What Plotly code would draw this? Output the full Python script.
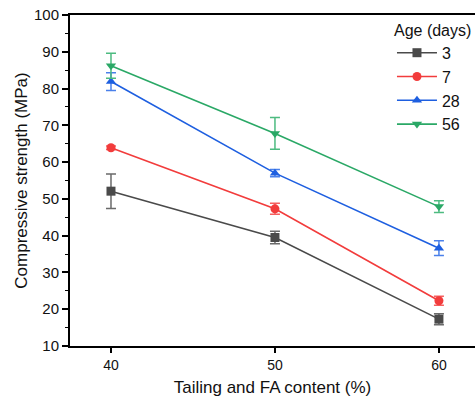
import plotly.graph_objects as go

content = [40, 50, 60]
ages = ["3", "7", "28", "56"]
strength = {
    "3": [52.1, 39.5, 17.3],
    "7": [63.9, 47.3, 22.3],
    "28": [81.9, 57.0, 36.6],
    "56": [86.2, 67.8, 47.9],
}
errors = {
    "3": [4.7, 1.7, 1.5],
    "7": [0.5, 1.5, 1.2],
    "28": [2.4, 1.0, 2.0],
    "56": [3.4, 4.3, 1.6],
}
colors = {"3": "#4a4a4a", "7": "#f23c3c", "28": "#1e5fe0", "56": "#2aa866"}
err_colors = {"3": "#6a6a6a", "7": "#f56060", "28": "#4a80ea", "56": "#4dbb80"}
symbols = {"3": "square", "7": "circle", "28": "triangle-up", "56": "triangle-down"}

fig = go.Figure()
for a in ages:
    fig.add_trace(go.Scatter(
        x=content, y=strength[a], name=a, mode="lines+markers",
        line=dict(color=colors[a], width=1.6),
        marker=dict(symbol=symbols[a], size=9, color=colors[a]),
        error_y=dict(type="data", array=errors[a], visible=True,
                     color=err_colors[a], thickness=1.5, width=5),
    ))

font = "Liberation Sans, Arial, sans-serif"
fig.update_layout(
    width=475, height=402,
    margin=dict(l=70, r=0, t=15, b=56),
    paper_bgcolor="white", plot_bgcolor="white",
    font=dict(family=font, color="#111", size=14),
    showlegend=True,
    legend=dict(
        title=dict(text="Age (days)", font=dict(size=16)),
        font=dict(size=16),
        x=0.795, y=1.0, xanchor="left", yanchor="top",
        bgcolor="rgba(0,0,0,0)", tracegroupgap=0,
        itemwidth=40,
    ),
    xaxis=dict(
        range=[37.5, 62.2], tickvals=[40, 50, 60],
        showline=True, linecolor="black", linewidth=2, mirror=True,
        ticks="outside", ticklen=5, tickwidth=1.5, tickcolor="black",
        showgrid=False, zeroline=False,
        title=dict(text="Tailing and FA content (%)", font=dict(size=17), standoff=9),
        tickfont=dict(size=14),
    ),
    yaxis=dict(
        range=[10, 100], tickvals=list(range(10, 101, 10)),
        showline=True, linecolor="black", linewidth=2, mirror=False,
        ticks="outside", ticklen=6, tickwidth=1.5, tickcolor="black",
        minor=dict(ticks="outside", ticklen=3, tickwidth=1.2, tickcolor="black", dtick=5),
        showgrid=False, zeroline=False,
        title=dict(text="Compressive strength (MPa)", font=dict(size=17), standoff=2),
        tickfont=dict(size=15),
    ),
)

fig.write_html("out.html")
